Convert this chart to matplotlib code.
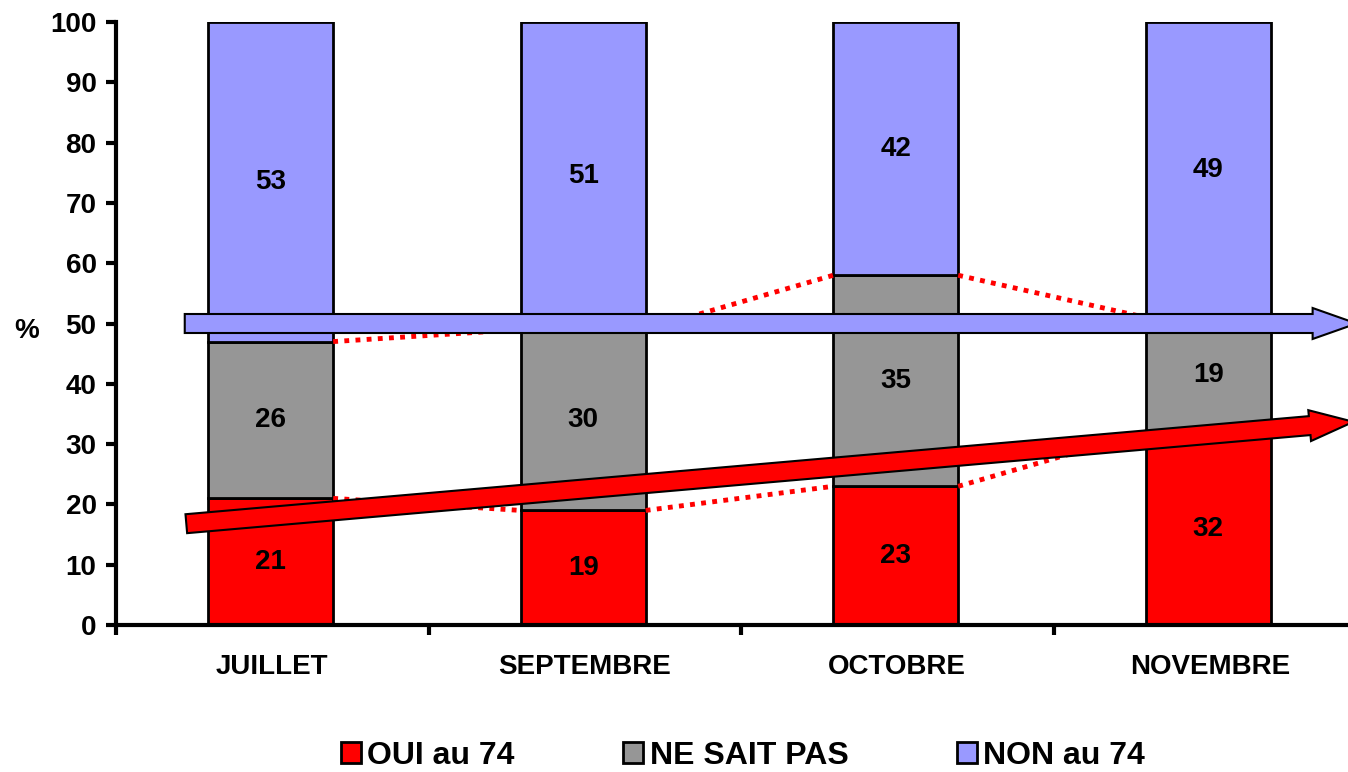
import matplotlib
matplotlib.use("Agg")
import matplotlib.pyplot as plt
import numpy as np
from matplotlib.patches import Polygon, Patch

plt.rcParams['font.family'] = ['Liberation Sans', 'DejaVu Sans']
plt.rcParams['font.weight'] = 'bold'

categories = ["JUILLET", "SEPTEMBRE", "OCTOBRE", "NOVEMBRE"]
oui = [21, 19, 23, 32]
nsp = [26, 30, 35, 19]
non = [53, 51, 42, 49]
series_names = ["OUI au 74", "NE SAIT PAS", "NON au 74"]
colors = ["#FF0000", "#969696", "#9999FF"]
yticks = [0, 10, 20, 30, 40, 50, 60, 70, 80, 90, 100]

# trend arrows (annotation): (x0, y0) -> (x1, y1) in data units
blue_arrow = ((-0.28, 50.0), (3.47, 50.0))
red_arrow = ((-0.275, 16.8), (3.46, 33.7))

W, H = 1348, 772
fig = plt.figure(figsize=(W / 100, H / 100), dpi=100)
ax = fig.add_axes([116 / W, 147 / H, 1250 / W, 603 / H])
ax.set_xlim(-0.5, 3.5)
ax.set_ylim(0, 100)

x = np.arange(len(categories))
bw = 0.4
data = [oui, nsp, non]
bottom = np.zeros(len(categories))
for vals, c in zip(data, colors):
    ax.bar(x - 0.005, vals, bw, bottom=bottom, color=c, edgecolor="black", linewidth=2, zorder=2)
    for xi, b, v in zip(x, bottom, vals):
        ax.text(xi - 0.005, b + v / 2, str(v), ha="center", va="center", fontsize=20,
                fontweight="bold", zorder=5)
    bottom = bottom + np.array(vals)

# series lines (red dotted)
cum = np.cumsum(np.array(data[:2]), axis=0)
for level in cum:
    for i in range(len(categories) - 1):
        ax.plot([x[i] - 0.005 + bw / 2, x[i + 1] - 0.005 - bw / 2], [level[i], level[i + 1]],
                color="red", linestyle=(0, (1, 1.3)), linewidth=3.5, zorder=3,
                solid_capstyle="butt", dash_capstyle="butt")

# axes styling
for s in ["top", "right"]:
    ax.spines[s].set_visible(False)
ax.spines["left"].set_linewidth(3)
ax.spines["bottom"].set_linewidth(3)
ax.spines["left"].set_zorder(4)
ax.set_yticks(yticks)
ax.set_yticklabels([str(t) for t in yticks], fontsize=20, fontweight="bold")
ax.tick_params(axis="y", length=7, width=3, pad=7)
ax.set_xticks(x)
ax.set_xticklabels(categories, fontsize=20, fontweight="bold")
ax.tick_params(axis="x", which="major", length=0, pad=21)
ax.set_xticks(np.arange(-0.5, 3.6, 1.0), minor=True)
ax.tick_params(axis="x", which="minor", length=7, width=3, direction="out")

fig.text(27 / W, 1 - 331 / H, "%", fontsize=20, fontweight="bold", ha="center", va="center")


def draw_arrow(p0, p1, color, shaft=19, headw=31, headl=44):
    fig.canvas.draw()
    T = ax.transData
    a = T.transform(p0)
    b = T.transform(p1)
    d = b - a
    L = np.hypot(*d)
    u = d / L
    n = np.array([-u[1], u[0]])
    hb = b - u * headl
    pts = [a + n * shaft / 2, hb + n * shaft / 2, hb + n * headw / 2, b,
           hb - n * headw / 2, hb - n * shaft / 2, a - n * shaft / 2]
    pts = T.inverted().transform(np.array(pts))
    poly = Polygon(pts, closed=True, facecolor=color, edgecolor="black",
                   linewidth=1.5, zorder=6, clip_on=False)
    ax.add_patch(poly)


draw_arrow(*blue_arrow, colors[2])
draw_arrow(*red_arrow, colors[0])

handles = [Patch(facecolor=c, edgecolor="black", linewidth=2) for c in colors]
fig.legend(handles, series_names, loc="center", bbox_to_anchor=(743 / W, 1 - 756 / H),
           ncol=3, frameon=False, handlelength=0.62, handleheight=0.62,
           handletextpad=0.2, columnspacing=3.4, borderpad=0,
           prop={"weight": "bold", "size": 23})

fig.savefig("out.png", dpi=100)
